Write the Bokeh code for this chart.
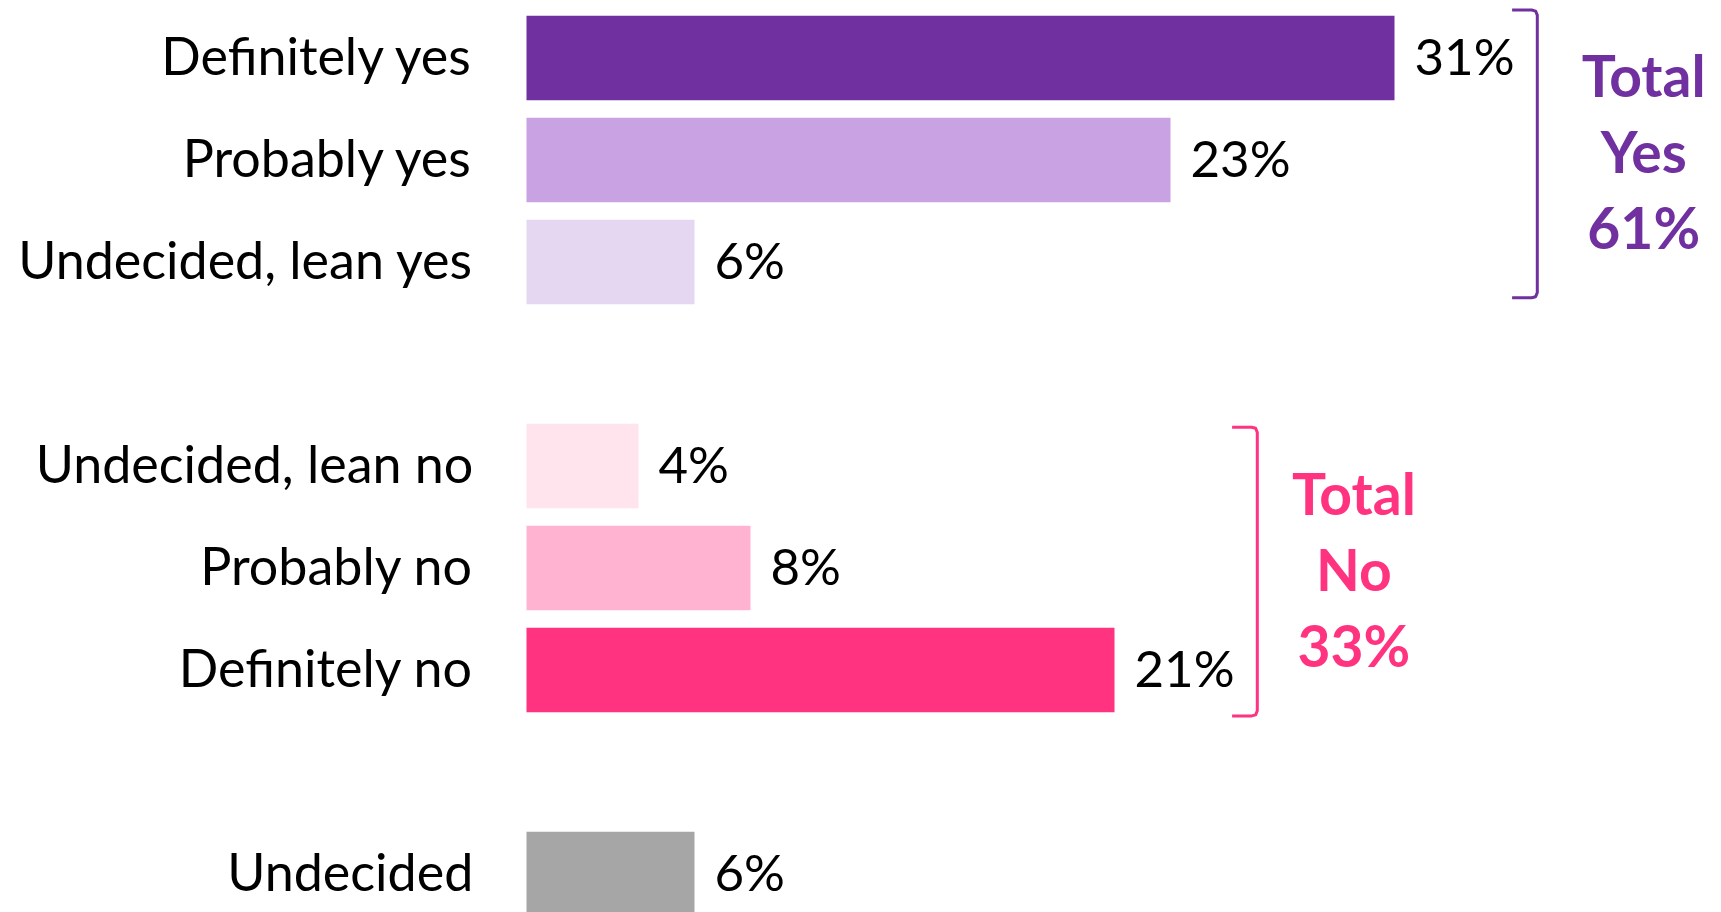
from bokeh.plotting import figure
from bokeh.models import Range1d, ColumnDataSource
from bokeh.core.properties import value
from bokeh.embed import file_html
from bokeh.resources import INLINE

# ---- data ----
categories = ["Definitely yes", "Probably yes", "Undecided, lean yes",
              "Undecided, lean no", "Probably no", "Definitely no", "Undecided"]
rows = [0, 1, 2, 4, 5, 6, 8]
values = [31, 23, 6, 4, 8, 21, 6]
labels = ["31%", "23%", "6%", "4%", "8%", "21%", "6%"]
colors = ["#7030A0", "#C8A2E2", "#E5D6F1", "#FFE4EE", "#FFB3D1", "#FF3380", "#A6A6A6"]

group_names = ["Yes", "No"]
group_rows = [[0, 1, 2], [4, 5, 6]]
group_values = [[31, 23, 6], [4, 8, 21]]
group_totals = ["61%", "33%"]
group_colors = ["#7030A0", "#FF3380"]

# ---- styling / layout constants ----
FONT = "Lato"
W, H = 1721, 912
PX_PER_PCT = 28.0
ZERO_PX = 526
ROW_PX = 102.0
FIRST_ROW_PX = 57.5
BRACKET_PAD_TOP = [0.47, 0.38]
BRACKET_PAD_BOT = [0.35, 0.45]
TOTAL_GAP = [3.8, 3.45]

x0 = -ZERO_PX / PX_PER_PCT
x1 = (W - ZERO_PX) / PX_PER_PCT
y_top = -FIRST_ROW_PX / ROW_PX
y_bot = y_top + H / ROW_PX

p = figure(width=W, height=H, output_backend="svg", toolbar_location=None,
           x_range=Range1d(x0, x1), y_range=Range1d(y_bot, y_top),
           min_border=0, min_border_left=0, min_border_right=0,
           min_border_top=0, min_border_bottom=0)
p.axis.visible = False
p.grid.visible = False
p.outline_line_color = None
p.background_fill_color = "white"
p.border_fill_color = "white"

src = ColumnDataSource(dict(cat=categories, y=rows, v=values, lab=labels, c=colors,
                            zero=[0] * len(values)))

p.hbar(y="y", left="zero", right="v", height=0.83, fill_color="c", line_color=None, source=src)

# category labels
p.text(x=-1.9, y="y", text="cat", source=src, text_align="right", text_baseline="middle",
       y_offset=-3, text_font=value(FONT), text_font_size="52px", text_color="black")
# value labels
p.text(x="v", y="y", text="lab", source=src, x_offset=20, y_offset=-3, text_align="left",
       text_baseline="middle", text_font=value(FONT), text_font_size="51px",
       text_color="black")

# brackets and totals
for i, (name, gr, gv, tot, col) in enumerate(zip(group_names, group_rows, group_values,
                                                 group_totals, group_colors)):
    bx = max(gv) + 5.1
    top = min(gr) - BRACKET_PAD_TOP[i]
    bot = max(gr) + BRACKET_PAD_BOT[i]
    hook = 0.9
    p.line(x=[bx - hook, bx - 0.2, bx - 0.06, bx, bx, bx - 0.06, bx - 0.2, bx - hook],
           y=[top, top, top + 0.01, top + 0.05, bot - 0.05, bot - 0.01, bot, bot],
           line_color=col, line_width=3, line_join="round")
    mid = (top + bot) / 2.0
    tx = bx + TOTAL_GAP[i]
    p.text(x=[tx, tx, tx], y=[mid - 0.745, mid, mid + 0.745], text=["Total", name, tot],
           text_align="center", text_baseline="middle", text_font=value(FONT), y_offset=-3,
           text_font_style="bold", text_font_size="57px", text_color=col)

html = file_html(p, INLINE)
html = html.replace("<head>", "<head><style>html,body{margin:0;padding:0;}</style>", 1)
open("out.html", "w").write(html)
